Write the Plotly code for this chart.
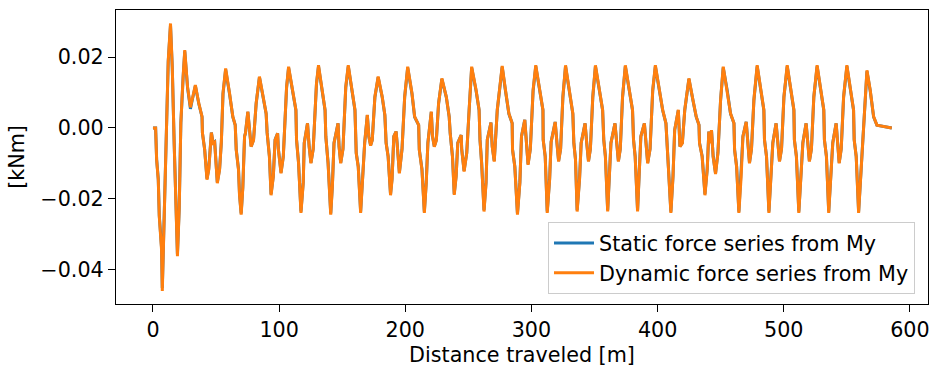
import plotly.graph_objects as go

# Distance along the track [m]
distance = [
    0.0, 2.1, 2.9, 4.2, 5.0, 6.8, 7.4, 9.5, 10.8, 12.1, 13.9, 15.3, 16.8, 18.1, 19.4, 20.8,
    22.1, 23.9, 25.2, 27.4, 29.7, 31.0, 33.6, 36.3, 38.9, 39.2, 41.0, 42.8, 44.2, 46.3, 47.6,
    48.9, 51.0, 52.8, 54.2, 55.5, 57.6, 60.7, 63.3, 65.2, 66.0, 67.8, 68.6, 69.9, 71.2, 72.6,
    73.3, 75.2, 76.5, 77.8, 79.7, 81.8, 84.4, 87.5, 89.7, 90.5, 92.3, 93.6, 95.4, 96.8, 98.8,
    99.4, 101.5, 103.3, 104.6, 105.9, 107.5, 110.6, 113.3, 113.8, 115.4, 117.3, 119.1, 119.9,
    122.5, 123.8, 125.2, 127.0, 128.5, 129.6, 131.2, 134.3, 136.4, 137.0, 138.8, 140.9, 142.2,
    143.5, 146.7, 147.5, 148.8, 150.6, 152.8, 154.8, 158.0, 160.1, 161.1, 162.7, 164.6, 166.4,
    167.8, 169.9, 171.1, 172.5, 173.8, 175.9, 178.5, 181.7, 183.8, 184.8, 186.4, 188.3, 189.5,
    190.9, 192.7, 193.5, 195.3, 197.4, 199.5, 201.9, 205.3, 207.4, 210.6, 211.1, 213.2, 215.1,
    216.6, 217.9, 220.6, 221.6, 223.0, 224.6, 226.4, 229.0, 232.5, 234.8, 235.6, 237.4, 238.8,
    240.3, 241.6, 244.3, 244.7, 246.6, 248.7, 250.6, 252.6, 256.1, 258.5, 259.2, 260.5, 262.4,
    264.0, 265.0, 267.9, 268.9, 270.5, 272.9, 275.0, 276.8, 279.4, 282.1, 284.7, 285.0, 286.8,
    288.9, 290.8, 292.1, 294.7, 296.0, 297.3, 299.1, 301.3, 303.4, 306.5, 309.1, 309.3, 310.9,
    312.5, 314.4, 315.6, 318.8, 320.2, 321.5, 323.1, 324.9, 327.0, 330.2, 332.8, 333.6, 334.9,
    336.2, 338.1, 339.4, 342.5, 343.8, 345.2, 346.7, 348.6, 350.7, 353.8, 356.4, 357.3, 358.6,
    360.4, 361.7, 363.0, 366.2, 367.5, 368.9, 370.4, 372.2, 374.4, 377.5, 380.1, 380.9, 382.2,
    384.1, 385.4, 386.7, 389.5, 390.8, 392.1, 394.0, 396.1, 398.2, 401.4, 404.0, 406.6, 407.4,
    408.5, 410.5, 412.2, 413.5, 416.4, 417.7, 419.6, 421.5, 424.8, 428.0, 430.6, 432.8, 433.2,
    435.3, 437.5, 439.3, 440.6, 441.4, 442.7, 444.0, 445.9, 447.8, 449.9, 452.0, 455.2, 457.8,
    460.5, 461.0, 462.6, 464.4, 466.2, 467.6, 470.2, 471.6, 472.8, 474.4, 476.3, 478.9, 481.5,
    484.2, 484.7, 486.3, 488.2, 490.0, 491.3, 493.9, 495.3, 496.6, 498.2, 500.1, 502.7, 505.3,
    508.0, 508.4, 510.0, 511.9, 513.7, 515.1, 517.7, 519.0, 520.3, 521.9, 523.8, 526.4, 529.0,
    531.7, 532.2, 533.8, 535.6, 537.4, 538.8, 541.5, 542.6, 543.9, 545.5, 547.4, 550.0, 552.6,
    555.3, 555.8, 557.4, 559.3, 561.2, 563.2, 564.5, 565.9, 568.5, 571.2, 573.8, 579.1, 585.6,
]

# Bending moment My, dynamic force series [kNm]
dynamic_my = [
    0.0, 0.0, -0.009, -0.0147, -0.025, -0.0344, -0.046, -0.0184, 0.0004, 0.019, 0.0295, 0.0173,
    -0.0043, -0.023, -0.0362, -0.023, 0.0014, 0.0145, 0.022, 0.0116, 0.0058, 0.0079, 0.0121,
    0.007, 0.0032, -0.0014, -0.0062, -0.0146, -0.0118, -0.0013, -0.0043, -0.004, -0.0156,
    -0.0118, -0.004, 0.0098, 0.0168, 0.0098, 0.0032, 0.0008, -0.0062, -0.0118, -0.019, -0.0245,
    -0.017, -0.0024, -0.0015, 0.0046, -0.0006, -0.0053, -0.0035, 0.007, 0.0145, 0.0089, 0.0041,
    -0.0014, -0.0081, -0.019, -0.0137, -0.0034, -0.0015, -0.006, -0.0128, -0.0081, 0.0023,
    0.0116, 0.0173, 0.0107, 0.0051, -0.0034, -0.01, -0.024, -0.0156, -0.0043, 0.0013, -0.0053,
    -0.01, -0.006, 0.0051, 0.0126, 0.0177, 0.0107, 0.0051, -0.0024, -0.01, -0.0245, -0.0165,
    -0.0043, 0.0013, -0.0053, -0.01, -0.006, 0.0116, 0.0177, 0.0107, 0.0051, -0.0071, -0.011,
    -0.024, -0.0137, -0.0043, 0.0037, -0.0024, -0.005, -0.0035, 0.0088, 0.0145, 0.0088, 0.0037,
    -0.0043, -0.0081, -0.019, -0.0146, -0.0024, -0.001, -0.0043, -0.0128, -0.006, 0.0088,
    0.0173, 0.0098, 0.0032, 0.0008, -0.0062, -0.0118, -0.024, -0.0156, -0.0043, 0.0046,
    -0.0024, -0.0053, -0.0035, 0.007, 0.014, 0.0088, 0.0032, -0.0015, -0.0081, -0.0189,
    -0.0137, -0.0043, -0.002, -0.006, -0.0123, -0.0071, 0.0051, 0.0173, 0.0107, 0.0051,
    -0.0034, -0.01, -0.0236, -0.0156, -0.0034, 0.0015, -0.0053, -0.0095, 0.0051, 0.0116,
    0.0175, 0.0107, 0.0041, 0.0013, -0.0062, -0.011, -0.0245, -0.0156, -0.0024, 0.0023,
    -0.0043, -0.0104, -0.006, 0.0107, 0.0177, 0.0107, 0.0051, -0.0034, -0.0081, -0.024,
    -0.0146, -0.004, 0.0017, -0.0043, -0.0095, -0.006, 0.0088, 0.0177, 0.0107, 0.0041,
    -0.0043, -0.009, -0.0236, -0.0146, -0.0043, 0.0013, -0.0043, -0.0095, -0.006, 0.0088,
    0.0177, 0.0107, 0.0051, -0.0034, -0.0081, -0.0236, -0.0137, -0.0043, 0.0013, -0.0043,
    -0.0095, -0.006, 0.0088, 0.0177, 0.0107, 0.0051, -0.0034, -0.0081, -0.0236, -0.0137,
    -0.0024, 0.0013, -0.0043, -0.01, -0.006, 0.0107, 0.0177, 0.0107, 0.0051, 0.0013, -0.0062,
    -0.011, -0.024, -0.0137, -0.0006, 0.0051, -0.0053, -0.0043, 0.0051, 0.014, 0.0079, 0.0032,
    0.0008, -0.0043, -0.0081, -0.019, -0.0118, -0.001, -0.0043, -0.0006, -0.0081, -0.013,
    -0.0071, 0.0079, 0.0173, 0.0107, 0.0041, 0.0013, -0.0062, -0.011, -0.024, -0.0137,
    -0.0024, 0.0017, -0.0053, -0.01, -0.006, 0.0079, 0.0177, 0.0116, 0.0051, -0.0034, -0.0081,
    -0.024, -0.0137, -0.0043, 0.0013, -0.0053, -0.0095, -0.006, 0.0088, 0.0177, 0.0116,
    0.0051, -0.0034, -0.0081, -0.024, -0.0137, -0.0043, 0.0013, -0.0043, -0.0095, -0.006,
    0.0088, 0.0177, 0.0116, 0.0051, -0.0034, -0.0081, -0.024, -0.0137, -0.0043, 0.0013,
    -0.0043, -0.01, -0.006, 0.0088, 0.0177, 0.0116, 0.0051, -0.0034, -0.0081, -0.024, -0.0118,
    0.0023, 0.0098, 0.0163, 0.0107, 0.0032, 0.0008, 0.0004, 0.0,
]

# Bending moment My, static force series [kNm]
static_my = [
    0.0, 0.0, -0.0088, -0.0144, -0.0246, -0.0338, -0.0452, -0.0181, 0.0004, 0.0187, 0.029, 0.017,
    -0.0042, -0.0226, -0.0356, -0.0226, 0.0014, 0.0143, 0.0216, 0.0114, 0.0054, 0.0077, 0.0119,
    0.0069, 0.0031, -0.0014, -0.0061, -0.0143, -0.0116, -0.0013, -0.0042, -0.0039, -0.0153,
    -0.0116, -0.0039, 0.0096, 0.0165, 0.0096, 0.0031, 0.0008, -0.0061, -0.0116, -0.0187, -0.0241,
    -0.0167, -0.0024, -0.0015, 0.0045, -0.0006, -0.0052, -0.0034, 0.0069, 0.0143, 0.0087, 0.004,
    -0.0014, -0.008, -0.0187, -0.0135, -0.0033, -0.0015, -0.0059, -0.0126, -0.008, 0.0023,
    0.0114, 0.017, 0.0105, 0.005, -0.0033, -0.0098, -0.0236, -0.0153, -0.0042, 0.0013, -0.0052,
    -0.0098, -0.0059, 0.005, 0.0124, 0.0174, 0.0105, 0.005, -0.0024, -0.0098, -0.0241, -0.0162,
    -0.0042, 0.0013, -0.0052, -0.0098, -0.0059, 0.0114, 0.0174, 0.0105, 0.005, -0.007, -0.0108,
    -0.0236, -0.0135, -0.0042, 0.0036, -0.0024, -0.0049, -0.0034, 0.0087, 0.0143, 0.0087, 0.0036,
    -0.0042, -0.008, -0.0187, -0.0143, -0.0024, -0.001, -0.0042, -0.0126, -0.0059, 0.0087,
    0.017, 0.0096, 0.0031, 0.0008, -0.0061, -0.0116, -0.0236, -0.0153, -0.0042, 0.0045,
    -0.0024, -0.0052, -0.0034, 0.0069, 0.0138, 0.0087, 0.0031, -0.0015, -0.008, -0.0186,
    -0.0135, -0.0042, -0.002, -0.0059, -0.0121, -0.007, 0.005, 0.017, 0.0105, 0.005,
    -0.0033, -0.0098, -0.0232, -0.0153, -0.0033, 0.0015, -0.0052, -0.0093, 0.005, 0.0114,
    0.0172, 0.0105, 0.004, 0.0013, -0.0061, -0.0108, -0.0241, -0.0153, -0.0024, 0.0023,
    -0.0042, -0.0102, -0.0059, 0.0105, 0.0174, 0.0105, 0.005, -0.0033, -0.008, -0.0236,
    -0.0143, -0.0039, 0.0017, -0.0042, -0.0093, -0.0059, 0.0087, 0.0174, 0.0105, 0.004,
    -0.0042, -0.0088, -0.0232, -0.0143, -0.0042, 0.0013, -0.0042, -0.0093, -0.0059, 0.0087,
    0.0174, 0.0105, 0.005, -0.0033, -0.008, -0.0232, -0.0135, -0.0042, 0.0013, -0.0042,
    -0.0093, -0.0059, 0.0087, 0.0174, 0.0105, 0.005, -0.0033, -0.008, -0.0232, -0.0135,
    -0.0024, 0.0013, -0.0042, -0.0098, -0.0059, 0.0105, 0.0174, 0.0105, 0.005, 0.0013, -0.0061,
    -0.0108, -0.0236, -0.0135, -0.0006, 0.005, -0.0052, -0.0042, 0.005, 0.0138, 0.0078, 0.0031,
    0.0008, -0.0042, -0.008, -0.0187, -0.0116, -0.001, -0.0042, -0.0006, -0.008, -0.0128,
    -0.007, 0.0078, 0.017, 0.0105, 0.004, 0.0013, -0.0061, -0.0108, -0.0236, -0.0135,
    -0.0024, 0.0017, -0.0052, -0.0098, -0.0059, 0.0078, 0.0174, 0.0114, 0.005, -0.0033, -0.008,
    -0.0236, -0.0135, -0.0042, 0.0013, -0.0052, -0.0093, -0.0059, 0.0087, 0.0174, 0.0114,
    0.005, -0.0033, -0.008, -0.0236, -0.0135, -0.0042, 0.0013, -0.0042, -0.0093, -0.0059,
    0.0087, 0.0174, 0.0114, 0.005, -0.0033, -0.008, -0.0236, -0.0135, -0.0042, 0.0013,
    -0.0042, -0.0098, -0.0059, 0.0087, 0.0174, 0.0114, 0.005, -0.0033, -0.008, -0.0236, -0.0116,
    0.0023, 0.0096, 0.016, 0.0105, 0.0031, 0.0008, 0.0004, 0.0,
]

x_ticks = [0, 100, 200, 300, 400, 500, 600]
y_ticks = [-0.04, -0.02, 0.0, 0.02]
y_tick_text = ["\u22120.04", "\u22120.02", "0.00", "0.02"]

FONT = dict(family="DejaVu Sans", size=20.7, color="black")

fig = go.Figure()
fig.add_trace(go.Scatter(
    x=distance, y=static_my, mode="lines", name="Static force series from My",
    line=dict(color="#1f77b4", width=3),
))
fig.add_trace(go.Scatter(
    x=distance, y=dynamic_my, mode="lines", name="Dynamic force series from My",
    line=dict(color="#ff7f0e", width=3),
))

axis_common = dict(
    showline=True, linecolor="black", linewidth=1.2, mirror=True,
    showgrid=False, zeroline=False,
    ticks="outside", ticklen=7, tickwidth=1.2, tickcolor="black",
    tickfont=FONT,
)

fig.update_layout(
    width=936, height=370,
    margin=dict(l=116, r=6, t=10, b=66),
    paper_bgcolor="white", plot_bgcolor="white",
    font=FONT,
    xaxis=dict(
        range=[-29.3, 614.3], tickvals=x_ticks,
        title=dict(text="Distance traveled [m]", font=FONT, standoff=6),
        **axis_common,
    ),
    yaxis=dict(
        range=[-0.0497, 0.0333], tickvals=y_ticks, ticktext=y_tick_text,
        title=dict(text="[kNm]", font=FONT, standoff=10),
        **axis_common,
    ),
    legend=dict(
        x=0.984, y=0.034, xanchor="right", yanchor="bottom",
        bgcolor="rgba(255,255,255,0.8)", bordercolor="#cccccc", borderwidth=1,
        font=FONT, tracegroupgap=0, itemwidth=40,
    ),
    showlegend=True,
)

fig.write_html("out.html")
